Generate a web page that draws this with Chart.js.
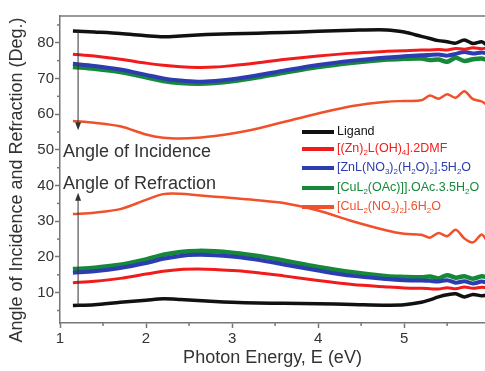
<!DOCTYPE html>
<html>
<head>
<meta charset="utf-8">
<script src="https://cdn.jsdelivr.net/npm/chart.js@4.4.1/dist/chart.umd.min.js"></script>
<style>
  body { margin: 0; background: #fff; }
</style>
</head>
<body>
<canvas id="chart" width="485" height="371"></canvas>
<script>
// photon energy (eV) sample points shared by all curves
const energy = [1.15, 1.4, 1.7, 2.0, 2.2, 2.4, 2.6, 2.8, 3.0, 3.3, 3.6, 4.0, 4.4, 4.8, 5.0, 5.2, 5.3, 5.4, 5.5, 5.6, 5.7, 5.8, 5.9, 5.95];

// angle of incidence (deg)
const ligandInc = [83.3, 83.0, 82.6, 82.0, 81.7, 81.9, 82.2, 82.4, 82.5, 82.7, 82.9, 83.2, 83.5, 83.6, 83.0, 81.8, 81.2, 80.6, 80.3, 79.9, 80.8, 79.8, 80.3, 79.6];
const znDmfInc = [76.8, 76.3, 75.4, 74.3, 73.7, 73.3, 73.1, 73.2, 73.6, 74.4, 75.3, 76.3, 77.1, 77.6, 77.8, 78.0, 78.0, 78.1, 78.0, 78.4, 78.2, 78.6, 78.3, 78.5];
const znNo3Inc = [74.1, 73.5, 72.5, 71.0, 70.0, 69.4, 69.1, 69.3, 69.8, 70.9, 72.2, 73.8, 75.0, 75.9, 76.2, 76.5, 76.6, 76.7, 76.4, 76.9, 77.4, 77.0, 77.3, 77.1];
const cuOacInc = [73.2, 72.7, 71.8, 70.3, 69.3, 68.7, 68.5, 68.7, 69.2, 70.3, 71.6, 73.2, 74.4, 75.3, 75.5, 75.6, 75.2, 75.3, 74.7, 75.8, 74.9, 75.4, 75.6, 75.3];
const cuNo3Inc = [58.1, 57.6, 56.6, 54.3, 53.4, 53.2, 53.4, 53.9, 54.6, 56.0, 57.8, 60.2, 62.3, 63.5, 63.7, 63.9, 65.2, 64.3, 65.6, 64.6, 66.4, 64.2, 63.6, 62.8];

// angle of refraction (deg)
const ligandRef = [6.4, 6.6, 7.3, 7.9, 8.3, 8.1, 7.8, 7.5, 7.3, 7.1, 7.0, 6.9, 6.7, 6.5, 6.6, 7.3, 8.0, 8.8, 9.4, 9.7, 8.8, 9.5, 9.1, 9.3];
const znDmfRef = [12.8, 13.2, 14.0, 15.2, 16.0, 16.5, 16.6, 16.5, 16.2, 15.6, 14.7, 13.4, 12.3, 11.6, 11.3, 11.2, 11.1, 11.0, 11.4, 11.1, 11.6, 11.2, 11.5, 11.4];
const znNo3Ref = [15.6, 16.0, 16.9, 18.3, 19.5, 20.3, 20.6, 20.5, 20.1, 19.2, 17.9, 16.2, 14.7, 13.8, 13.5, 13.4, 13.3, 13.1, 13.5, 12.8, 13.2, 12.6, 13.1, 12.9];
const cuOacRef = [16.6, 17.0, 17.8, 19.3, 20.6, 21.4, 21.7, 21.6, 21.2, 20.3, 19.0, 17.2, 15.7, 14.6, 14.4, 14.3, 14.5, 14.0, 14.9, 14.2, 14.6, 13.9, 14.6, 14.4];
const cuNo3Ref = [32.0, 32.4, 33.4, 36.0, 37.6, 37.7, 37.3, 36.9, 36.5, 35.9, 35.1, 33.0, 30.0, 27.4, 26.5, 26.2, 25.4, 26.7, 25.8, 27.6, 25.2, 24.1, 26.3, 25.0];

// legend names ("_x" = subscript x)
const compounds = ['Ligand', '[(Zn)_2L(OH)_4].2DMF', '[ZnL(NO_3)_2(H_2O)_2].5H_2O', '[CuL_2(OAc)]].OAc.3.5H_2O', '[CuL_2(NO_3)_2].6H_2O'];
const incSeries = [ligandInc, znDmfInc, znNo3Inc, cuOacInc, cuNo3Inc];
const refSeries = [ligandRef, znDmfRef, znNo3Ref, cuOacRef, cuNo3Ref];

const xTicks = [1, 2, 3, 4, 5];
const yTicks = [10, 20, 30, 40, 50, 60, 70, 80];
const xMinor = [1.5, 2.5, 3.5, 4.5, 5.5];
const yMinor = [5, 15, 25, 35, 45, 55, 65, 75, 85];

const colors = ['#111111', '#f21b1b', '#2b3db0', '#16883a', '#f0512a'];
const widths = [3.5, 3, 4, 4.5, 2.5];
const axisColor = '#777';
const fontFamily = 'Arial, "Liberation Sans", sans-serif';

const toPoints = (vals) => vals.map((v, i) => ({ x: energy[i], y: v }));

const datasets = [];
compounds.forEach((name, i) => {
    [incSeries[i], refSeries[i]].forEach((vals) => {
        datasets.push({
            label: name,
            data: toPoints(vals),
            borderColor: colors[i],
            borderWidth: widths[i],
            pointRadius: 0,
            tension: 0.3,
            fill: false,
        });
    });
});

// draw text with "_x" subscripts
const drawRich = (ctx, text, x, y, size, color) => {
    ctx.fillStyle = color;
    ctx.textBaseline = 'middle';
    ctx.textAlign = 'left';
    let cx = x;
    for (let i = 0; i < text.length; i++) {
        if (text[i] === '_' && i + 1 < text.length) {
            const ch = text[++i];
            ctx.font = `${Math.round(size * 0.65)}px ${fontFamily}`;
            ctx.fillText(ch, cx, y + size * 0.3);
            cx += ctx.measureText(ch).width;
        } else {
            ctx.font = `${size}px ${fontFamily}`;
            ctx.fillText(text[i], cx, y);
            cx += ctx.measureText(text[i]).width;
        }
    }
};

const drawArrow = (ctx, x, yFrom, yTo) => {
    const dir = yTo > yFrom ? 1 : -1;
    ctx.beginPath();
    ctx.moveTo(x, yFrom);
    ctx.lineTo(x, yTo - dir * 6);
    ctx.stroke();
    ctx.beginPath();
    ctx.moveTo(x, yTo);
    ctx.lineTo(x - 3, yTo - dir * 8);
    ctx.lineTo(x + 3, yTo - dir * 8);
    ctx.closePath();
    ctx.fill();
};

const decorPlugin = {
    id: 'decor',
    afterDatasetsDraw(chart) {
        const { ctx, chartArea: a, scales: { x, y } } = chart;
        ctx.save();

        // top frame + minor ticks
        ctx.strokeStyle = axisColor;
        ctx.lineWidth = 1.5;
        ctx.beginPath();
        ctx.moveTo(a.left, a.top);
        ctx.lineTo(a.right, a.top);
        ctx.stroke();
        xMinor.forEach((v) => {
            const px = x.getPixelForValue(v);
            ctx.beginPath();
            ctx.moveTo(px, a.bottom);
            ctx.lineTo(px, a.bottom + 3);
            ctx.stroke();
        });
        yMinor.forEach((v) => {
            const py = y.getPixelForValue(v);
            ctx.beginPath();
            ctx.moveTo(a.left, py);
            ctx.lineTo(a.left - 3, py);
            ctx.stroke();
        });

        // y axis title, a bit lower than the plot centre as in the original
        ctx.save();
        ctx.translate(17, 180);
        ctx.rotate(-Math.PI / 2);
        ctx.font = `18px ${fontFamily}`;
        ctx.fillStyle = '#333';
        ctx.textAlign = 'center';
        ctx.textBaseline = 'middle';
        ctx.fillText('Angle of Incidence and Refraction (Deg.)', 0, 0);
        ctx.restore();

        // arrows
        ctx.strokeStyle = '#333';
        ctx.fillStyle = '#333';
        ctx.lineWidth = 1;
        const ax = x.getPixelForValue(1.21);
        drawArrow(ctx, ax, y.getPixelForValue(83.3), y.getPixelForValue(55.5));
        drawArrow(ctx, ax, y.getPixelForValue(6.4), y.getPixelForValue(38));

        // annotation labels
        ctx.font = `18px ${fontFamily}`;
        ctx.fillStyle = '#333';
        ctx.textAlign = 'left';
        ctx.textBaseline = 'middle';
        ctx.fillText('Angle of Incidence', a.left + 3, y.getPixelForValue(49.4));
        ctx.fillText('Angle of Refraction', a.left + 3, y.getPixelForValue(40.4));

        // legend
        const lx = 302;
        const rowY = [132, 149, 168, 188, 207];
        compounds.forEach((name, i) => {
            const ly = rowY[i];
            ctx.strokeStyle = colors[i];
            ctx.lineWidth = 4;
            ctx.beginPath();
            ctx.moveTo(lx, ly);
            ctx.lineTo(lx + 32, ly);
            ctx.stroke();
            drawRich(ctx, name, lx + 35, ly, 12.5, colors[i]);
        });

        ctx.restore();
    },
};

const tickFont = { family: fontFamily, size: 15 };
const titleFont = { family: fontFamily, size: 18 };

new Chart(document.getElementById('chart'), {
    type: 'line',
    data: { datasets },
    options: {
        responsive: false,
        animation: false,
        devicePixelRatio: 1,
        layout: { padding: { top: 16, right: 0, left: 0, bottom: 0 } },
        plugins: { legend: { display: false }, tooltip: { enabled: false } },
        scales: {
            x: {
                type: 'linear',
                min: 1,
                max: 5.94,
                afterBuildTicks: (s) => { s.ticks = xTicks.map((v) => ({ value: v })); },
                afterFit: (s) => { s.height = 48; },
                border: { color: axisColor, width: 1.5 },
                grid: { drawOnChartArea: false, tickLength: 5, tickColor: axisColor, tickWidth: 1.5 },
                ticks: { color: '#333', font: tickFont, padding: 2, maxRotation: 0 },
                title: { display: true, text: 'Photon Energy, E (eV)', color: '#333', font: titleFont, padding: { top: 0, bottom: 2 } },
            },
            y: {
                type: 'linear',
                min: 1.5,
                max: 87.5,
                afterBuildTicks: (s) => { s.ticks = yTicks.map((v) => ({ value: v })); },
                afterFit: (s) => { s.width = 60; },
                border: { color: axisColor, width: 1.5 },
                grid: { drawOnChartArea: false, tickLength: 5, tickColor: axisColor, tickWidth: 1.5 },
                ticks: { color: '#333', font: tickFont, padding: 1 },
            },
        },
    },
    plugins: [decorPlugin],
});
</script>
</body>
</html>
